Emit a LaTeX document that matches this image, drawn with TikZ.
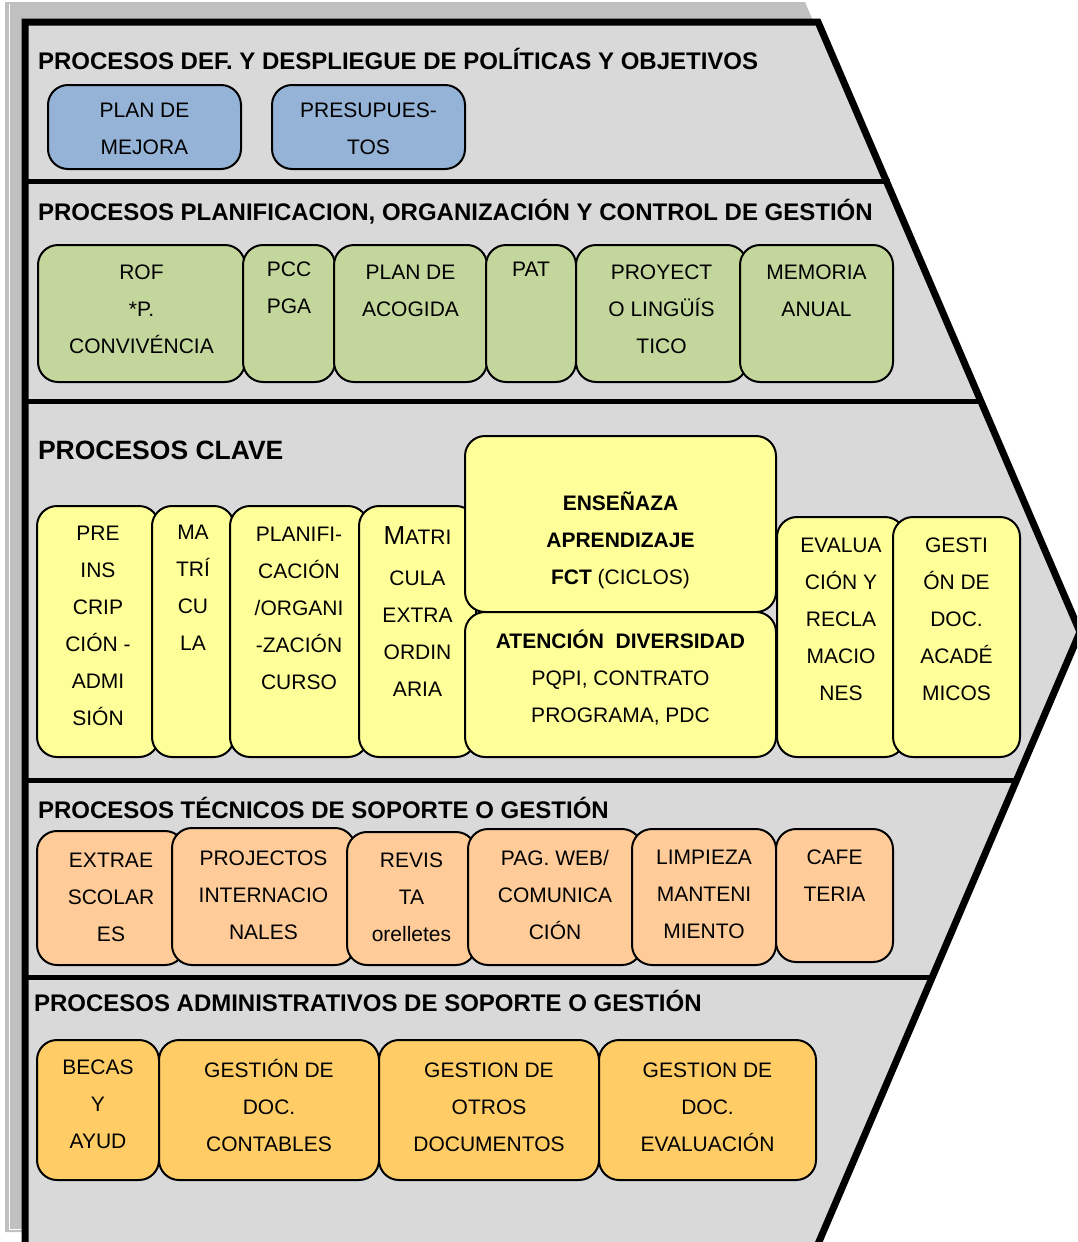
\documentclass[tikz,border=0pt]{standalone}
\usepackage{fontspec}
\setmainfont{Liberation Sans}
\definecolor{bgmain}{HTML}{D9D9D9}
\definecolor{shadowc}{HTML}{C0C0C0}
\definecolor{cblue}{HTML}{95B3D7}
\definecolor{cgreen}{HTML}{C3D69B}
\definecolor{cyellow}{HTML}{FFFF99}
\definecolor{cpeach}{HTML}{FFCC99}
\definecolor{cgold}{HTML}{FFCC66}
\tikzset{
  pbx/.style={draw=black, line width=2pt, rounded corners=20pt, inner sep=0pt, outer sep=0pt},
  ptx/.style={inner sep=0pt, outer sep=0pt, align=center, anchor=north,
    font=\fontsize{21}{37}\selectfont},
  ttl/.style={inner sep=0pt, outer sep=0pt, anchor=base west, font=\bfseries\fontsize{24}{28}\selectfont},
  divline/.style={line width=5pt, black},
}
\newcommand\pbox[8]{%
  \node[pbx, fill=#6, minimum width={#4-#2}, minimum height={#5-#3}] (#1) at ({(#2+#4)/2},{(#3+#5)/2}) {};
  \node[ptx] (#1t) at ({(#2+#4)/2},{#7-16.5}) {\rule{0pt}{24pt}#8};
}
\begin{document}
\begin{tikzpicture}[x=1pt,y=-1pt]
\useasboundingbox (0,0) rectangle (1077,1242);
\clip (0,0) rectangle (1077,1242);
% shadow
\fill[shadowc] (5,2) -- (805,2) -- (1065,615) -- (805,1232) -- (5,1232) -- cycle;
\draw[white, line width=1pt] (9,4) -- (9,1229) -- (22,1229);
% main chevron
\fill[bgmain] (25,22) -- (818,22) -- (1080,632) -- (818,1244) -- (25,1244) -- cycle;
% dividers
\draw[divline] (25,181) -- (890,181);
\draw[divline] (25,401) -- (980,401);
\draw[divline] (25,780) -- (1017,780);
\draw[divline] (25,977) -- (933,977);
\draw[black, line width=7pt, line join=miter] (25,1250) -- (25,22) -- (818,22) -- (1080,632) -- (818,1244) -- (815,1250);
% titles
\node[ttl] (t1) at (38,69) {PROCESOS DEF. Y DESPLIEGUE DE POLÍTICAS Y OBJETIVOS};
\node[ttl] (t2) at (38,220) {PROCESOS PLANIFICACION, ORGANIZACIÓN Y CONTROL DE GESTIÓN};
\node[ttl, font=\bfseries\fontsize{26.5}{30}\selectfont] (t3) at (38,459.5) {PROCESOS CLAVE};
\node[ttl] (t4) at (38,818.5) {PROCESOS TÉCNICOS DE SOPORTE O GESTIÓN};
\node[ttl] (t5) at (34,1011.5) {PROCESOS ADMINISTRATIVOS DE SOPORTE O GESTIÓN};
% row 1
\pbox{b11}{48}{85}{241}{169}{cblue}{110}{PLAN DE\\MEJORA}
\pbox{b12}{272}{85}{465}{169}{cblue}{110}{PRESUPUES-\\TOS}
% row 2
\pbox{b21}{38}{245}{245}{382}{cgreen}{272}{ROF\\*P.\\CONVIVÉNCIA}
\pbox{b22}{243}{245}{335}{382}{cgreen}{269}{PCC\\PGA}
\pbox{b23}{334}{245}{487}{382}{cgreen}{272}{PLAN DE\\ACOGIDA}
\pbox{b24}{486}{245}{576}{382}{cgreen}{269}{PAT}
\pbox{b25}{576}{245}{747}{382}{cgreen}{272}{PROYECT\\O LINGÜÍS\\TICO}
\pbox{b26}{740}{245}{893}{382}{cgreen}{272}{MEMORIA\\ANUAL}
% row 3
\pbox{b31}{37}{506}{159}{757}{cyellow}{533}{PRE\\INS\\CRIP\\CIÓN -\\ADMI\\SIÓN}
\pbox{b32}{152}{506}{234}{757}{cyellow}{532}{MA\\TRÍ\\CU\\LA}
\pbox{b33}{230}{506}{368}{757}{cyellow}{534}{PLANIFI-\\CACIÓN\\/ORGANI\\-ZACIÓN\\CURSO}
\pbox{b34}{359}{506}{476}{757}{cyellow}{537}{{\fontsize{26}{37}\selectfont M}ATRI\\[4pt]CULA\\EXTRA\\ORDIN\\ARIA}
\pbox{b35}{465}{436}{776}{612}{cyellow}{503}{\textbf{ENSEÑAZA}\\\textbf{APRENDIZAJE}\\\textbf{FCT} (CICLOS)}
\pbox{b36}{465}{612}{776}{757}{cyellow}{641}{\textbf{ATENCIÓN\ \ DIVERSIDAD}\\PQPI, CONTRATO\\PROGRAMA, PDC}
\pbox{b37}{777}{517}{905}{757}{cyellow}{545}{EVALUA\\CIÓN Y\\RECLA\\MACIO\\NES}
\pbox{b38}{893}{517}{1020}{757}{cyellow}{545}{GESTI\\ÓN DE\\DOC.\\ACADÉ\\MICOS}
% row 4
\pbox{b41}{37}{831}{185}{965}{cpeach}{860}{EXTRAE\\SCOLAR\\ES}
\pbox{b42}{172}{828}{355}{965}{cpeach}{858}{PROJECTOS\\INTERNACIO\\NALES}
\pbox{b43}{347}{832}{476}{965}{cpeach}{860}{REVIS\\TA\\orelletes}
\pbox{b44}{468}{829}{642}{965}{cpeach}{858}{PAG. WEB/\\COMUNICA\\CIÓN}
\pbox{b45}{632}{829}{776}{965}{cpeach}{857}{LIMPIEZA\\MANTENI\\MIENTO}
\pbox{b46}{776}{829}{893}{962}{cpeach}{857}{CAFE\\TERIA}
% row 5
\pbox{b51}{37}{1040}{159}{1180}{cgold}{1067}{BECAS\\Y\\AYUD}
\pbox{b52}{159}{1040}{379}{1180}{cgold}{1070}{GESTIÓN DE\\DOC.\\CONTABLES}
\pbox{b53}{379}{1040}{599}{1180}{cgold}{1070}{GESTION DE\\OTROS\\DOCUMENTOS}
\pbox{b54}{599}{1040}{816}{1180}{cgold}{1070}{GESTION DE\\DOC.\\EVALUACIÓN}
\end{tikzpicture}
\end{document}
